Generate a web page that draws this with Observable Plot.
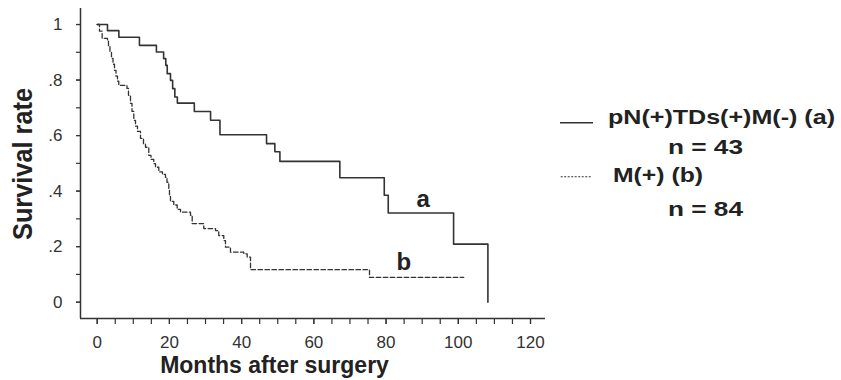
<!DOCTYPE html>
<html><head><meta charset="utf-8">
<script src="https://cdn.jsdelivr.net/npm/d3@7"></script>
<script src="https://cdn.jsdelivr.net/npm/@observablehq/plot@0.6"></script>
<style>
html,body{margin:0;padding:0;background:#fff;}
#chart{position:relative;width:841px;height:380px;}
</style></head><body><div id="chart"></div>
<script>
// Group a: pN(+)TDs(+)M(-), n = 43 (Kaplan-Meier steps)
const monthsA = [0, 2.85, 6.0, 11.7, 16.4, 18.4, 19.0, 19.4, 20.3, 20.9, 21.5, 22.2, 26.9, 31.4, 34.0, 46.9, 49.2, 50.6, 67.2, 79.5, 80.6, 98.7, 108.2];
const survA  = [1, .978, .954, .925, .901, .877, .853, .823, .799, .769, .739, .717, .687, .655, .603, .571, .542, .507, .448, .385, .321, .209, 0];
// Group b: M(+), n = 84
const monthsB = [0, 0.64, 1.38, 2.85, 3.13, 3.54, 3.96, 4.38, 4.79, 5.21, 5.62, 5.98, 8.25, 8.67, 9.22, 9.64, 10.14, 10.61, 11.16, 11.99, 12.82, 13.38, 14.29, 14.90, 15.67, 16.15, 17.06, 18.08, 18.91, 19.33, 19.83, 20.02, 20.30, 21.21, 22.15, 23.07, 25.84, 26.31, 29.52, 32.76, 33.67, 35.06, 35.53, 36.91, 40.60, 41.54, 42.46, 75.41, 101.5];
const survB  = [1, .976, .950, .940, .922, .900, .878, .857, .835, .814, .796, .781, .770, .745, .716, .687, .655, .634, .615, .590, .571, .558, .529, .514, .499, .486, .469, .460, .450, .432, .403, .381, .363, .350, .334, .324, .313, .283, .265, .258, .240, .222, .198, .180, .174, .162, .117, .089, .089];

const xTicks = [0, 20, 40, 60, 80, 100, 120];
const xMinorTicks = [0, 5, 10, 15, 20, 25, 30, 35, 40, 45, 50, 55, 60, 65, 70, 75, 80, 85, 90, 95, 100, 105, 110, 115, 120];
const yTicks = [0, 0.2, 0.4, 0.6, 0.8, 1];
const yTickLabels = ["0", ".2", ".4", ".6", ".8", "1"];
const yMinorTicks = [0, 0.1, 0.2, 0.3, 0.4, 0.5, 0.6, 0.7, 0.8, 0.9, 1];

const curveLabels = ["a", "b"];
const curveLabelMonths = [90.3, 84.9];
const curveLabelSurv = [0.342, 0.117];

const legendLabels = ["pN(+)TDs(+)M(-) (a)", "M(+) (b)"];
const legendCounts = ["n = 43", "n = 84"];
const xTitle = "Months after surgery";
const yTitle = "Survival rate";

const xDomain = [-4.62, 124.15];
const yDomain = [-0.0588, 1.0577];

const dataA = monthsA.map((m, i) => ({month: m, surv: survA[i]}));
const dataB = monthsB.map((m, i) => ({month: m, surv: survB[i]}));
const labelData = curveLabels.map((l, i) => ({label: l, month: curveLabelMonths[i], surv: curveLabelSurv[i]}));

const narrow = '"Liberation Sans Narrow","Arial Narrow","Liberation Sans",Arial,sans-serif';
const bold = '"Liberation Sans",Arial,Helvetica,sans-serif';
const ink = "#333";

const svg = Plot.plot({
  width: 841, height: 380,
  marginLeft: 80, marginRight: 296, marginTop: 8, marginBottom: 62,
  x: {domain: xDomain},
  y: {domain: yDomain},
  style: {fontFamily: narrow, fontSize: "17px", color: ink, background: "#fff"},
  marks: [
    Plot.ruleX([xDomain[0]], {stroke: ink, strokeWidth: 1.5}),
    Plot.ruleY([yDomain[0]], {stroke: ink, strokeWidth: 1.5}),
    Plot.axisX({ticks: xMinorTicks, tickSize: 6, tickFormat: () => "", label: null, stroke: ink, strokeWidth: 1.2}),
    Plot.axisX({ticks: xTicks, tickSize: 6, tickPadding: 11, label: null, stroke: ink, strokeWidth: 1.2, fontSize: 17, fill: ink, ariaLabel: "x-ticklabels"}),
    Plot.axisY({ticks: yMinorTicks, tickSize: 4, tickFormat: () => "", label: null, stroke: ink, strokeWidth: 1.2}),
    Plot.axisY({ticks: yTicks, tickSize: 4, tickPadding: 14, tickFormat: d => yTickLabels[yTicks.indexOf(d)], label: null, stroke: ink, strokeWidth: 1.2, fontSize: 17, fill: ink, ariaLabel: "y-ticklabels"}),
    Plot.line(dataA, {x: "month", y: "surv", curve: "step-after", stroke: ink, strokeWidth: 1.6}),
    Plot.line(dataB, {x: "month", y: "surv", curve: "step-after", stroke: ink, strokeWidth: 1.3, strokeDasharray: "4.5,2.5"}),
    Plot.text(labelData, {x: "month", y: "surv", text: "label", lineAnchor: "bottom", fontSize: 24, fontWeight: "bold", fontFamily: bold, fill: "#222"}),
    Plot.text([xTitle], {frameAnchor: "bottom", dx: -38.5, dy: 54, lineAnchor: "bottom", fontSize: 23, fontWeight: "bold", fontFamily: bold, fill: "#222", ariaLabel: "x-title"})
  ]
});
document.getElementById("chart").appendChild(svg);

const s = d3.select(svg);
s.select('g[aria-label="x-title"] text').attr("textLength", 252).attr("lengthAdjust", "spacingAndGlyphs");

// condense tick labels (narrow face look)
s.selectAll('g[aria-label="x-ticklabels"] text, g[aria-label="y-ticklabels"] text').each(function () {
  const w = this.getComputedTextLength();
  if (w > 0) d3.select(this).attr("textLength", w * 0.8).attr("lengthAdjust", "spacingAndGlyphs");
});

// y-axis title
s.append("text")
  .attr("transform", "translate(31.7,164) rotate(-90) scale(1,1.12)")
  .attr("text-anchor", "middle")
  .attr("font-family", bold).attr("font-weight", "bold").attr("font-size", 25)
  .attr("fill", "#222")
  .attr("textLength", 152).attr("lengthAdjust", "spacingAndGlyphs")
  .text(yTitle);

// legend
const lg = s.append("g").attr("font-family", bold).attr("font-weight", "bold").attr("font-size", 21).attr("fill", "#222").attr("text-anchor", "start");
lg.append("line").attr("x1", 560).attr("x2", 593).attr("y1", 122.7).attr("y2", 122.7).attr("stroke", ink).attr("stroke-width", 1.5);
lg.append("text").attr("x", 608).attr("y", 124.3).attr("textLength", 227).attr("lengthAdjust", "spacingAndGlyphs").text(legendLabels[0]);
lg.append("text").attr("x", 668).attr("y", 154).attr("textLength", 75).attr("lengthAdjust", "spacingAndGlyphs").text(legendCounts[0]);
lg.append("line").attr("x1", 560.7).attr("x2", 590.7).attr("y1", 176.7).attr("y2", 176.7).attr("stroke", ink).attr("stroke-width", 1.1).attr("stroke-dasharray", "2,1.5");
lg.append("text").attr("x", 613).attr("y", 181.5).attr("textLength", 90).attr("lengthAdjust", "spacingAndGlyphs").text(legendLabels[1]);
lg.append("text").attr("x", 668).attr("y", 216).attr("textLength", 75).attr("lengthAdjust", "spacingAndGlyphs").text(legendCounts[1]);
</script>
</body></html>
